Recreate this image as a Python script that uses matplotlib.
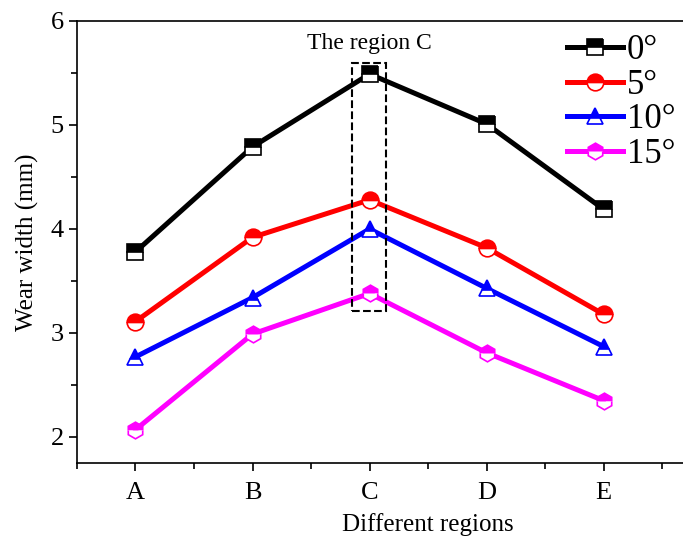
import matplotlib
matplotlib.use('Agg')
import matplotlib.pyplot as plt
from matplotlib.patches import Rectangle
from matplotlib.ticker import MultipleLocator

plt.rcParams['font.family'] = ['Liberation Serif', 'DejaVu Serif']

regions = ['A', 'B', 'C', 'D', 'E']
w0 = [3.78, 4.79, 5.49, 5.01, 4.19]
w5 = [3.11, 3.92, 4.28, 3.82, 3.18]
w10 = [2.77, 3.34, 4.00, 3.43, 2.87]
w15 = [2.07, 2.99, 3.38, 2.81, 2.35]
labels = ['0°', '5°', '10°', '15°']

series = [w0, w5, w10, w15]
colors = ['black', 'red', 'blue', 'magenta']
markers = ['s', 'o', '^', 'h']

fig = plt.figure(figsize=(6.83, 5.41), dpi=100)
ax = fig.add_axes([0.1127, 0.1442, 1.028, 0.817])

x = list(range(len(regions)))
for ys, c, m, lab in zip(series, colors, markers, labels):
    ax.plot(x, ys, color=c, lw=3.6, marker=m, markersize=12, fillstyle='top',
            markerfacecolor=c, markerfacecoloralt='white', markeredgecolor=c,
            markeredgewidth=1.2, label=lab)

# dashed box around region C
ax.add_patch(Rectangle((2 - 0.15, 3.21), 0.29, 2.39, fill=False, ls='--',
                       lw=1.5, ec='black', zorder=5))
ax.text(2, 5.78, 'The region C', ha='center', va='center', fontsize=17)

ax.set_xlim(-0.5, 5.5)
ax.set_ylim(1.75, 6)
ax.set_xticks(x)
ax.set_xticklabels(regions)
ax.xaxis.set_minor_locator(MultipleLocator(0.5))
ax.yaxis.set_major_locator(MultipleLocator(1))
ax.yaxis.set_minor_locator(MultipleLocator(0.5))
ax.tick_params(which='major', direction='out', length=6, width=1.2, labelsize=19)
ax.tick_params(axis='x', which='major', pad=8)
ax.tick_params(which='minor', direction='out', length=4, width=1.2)
for s in ax.spines.values():
    s.set_linewidth(1.2)

ax.set_xlabel('Different regions', fontsize=18, labelpad=6)
ax.set_ylabel('Wear width (mm)', fontsize=18, labelpad=8)

fig.legend(loc='upper right', bbox_to_anchor=(1.035, 0.995), frameon=False,
           fontsize=25, handlelength=1.6, handletextpad=0.12, labelspacing=0.05)

fig.savefig('out.png', dpi=100)
